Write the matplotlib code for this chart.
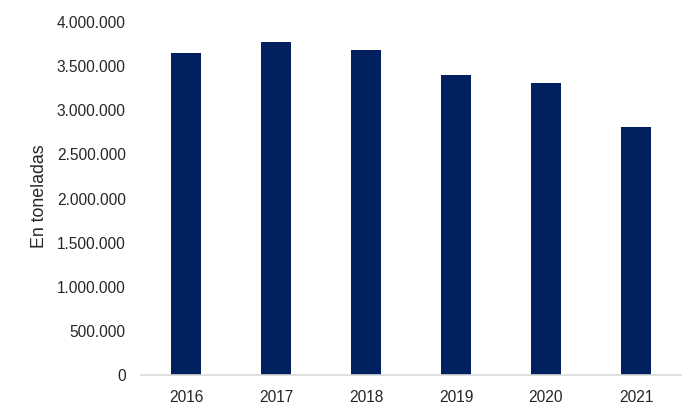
import matplotlib
matplotlib.use("Agg")
from matplotlib import pyplot as plt
from matplotlib.ticker import FuncFormatter, MultipleLocator

# datos
years = ["2016", "2017", "2018", "2019", "2020", "2021"]
toneladas = [3645000, 3770000, 3686000, 3400000, 3309000, 2810000]

plt.rcParams["font.family"] = ["Liberation Sans", "DejaVu Sans"]

fig = plt.figure(figsize=(7, 4.2), dpi=100)
ax = fig.add_axes([0.2014, 0.107, 0.7714, 0.8405])

ax.bar(years, toneladas, width=0.336, color="#002060")

ax.set_ylim(0, 4000000)
ax.set_xlim(-0.5, len(years) - 0.5)
ax.yaxis.set_major_locator(MultipleLocator(500000))
ax.yaxis.set_major_formatter(FuncFormatter(lambda v, p: f"{int(v):,}".replace(",", ".")))

for s in ["top", "right", "left"]:
    ax.spines[s].set_visible(False)
ax.spines["bottom"].set_color("#d9d9d9")
ax.spines["bottom"].set_linewidth(1.2)

ax.tick_params(axis="both", length=0, labelsize=11.2, colors="#262626")
ax.tick_params(axis="x", pad=11)
ax.tick_params(axis="y", pad=11)

ax.set_ylabel("En toneladas", fontsize=12.8, color="#262626")
ax.yaxis.set_label_coords(-0.172, 0.507)

fig.savefig("out.png", dpi=100)
